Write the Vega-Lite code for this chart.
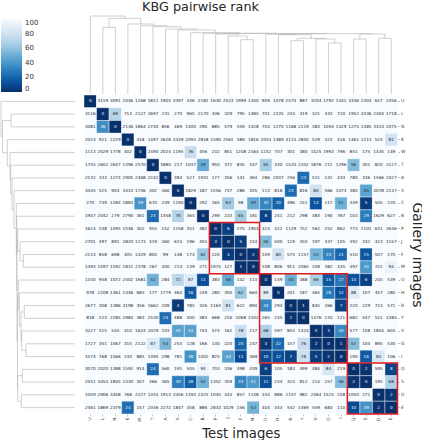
{"$schema":"https://vega.github.io/schema/vega-lite/v6.json","padding":0,"background":"white","config":{"view":{"stroke":null},"font":"DejaVu Sans"},
"datasets":{
"merges":[{"a":23.5,"b":24.5,"ta":0,"tb":0,"th":55.7,"la":0,"lb":0,"lh":53.7},{"a":21.5,"b":22.5,"ta":0,"tb":0,"th":55,"la":0,"lb":0,"lh":52.7},{"a":22,"b":24,"ta":55,"tb":55.7,"th":60,"la":52.7,"lb":53.7,"lh":57.3},{"a":19.5,"b":20.5,"ta":0,"tb":0,"th":51,"la":0,"lb":0,"lh":49},{"a":18.5,"b":20,"ta":0,"tb":51,"th":55,"la":0,"lb":49,"lh":53.3},{"a":16.5,"b":17.5,"ta":0,"tb":0,"th":53.3,"la":0,"lb":0,"lh":50.7},{"a":17,"b":19.25,"ta":53.3,"tb":55,"th":55.7,"la":50.7,"lb":53.3,"lh":54},{"a":15.5,"b":18.125,"ta":0,"tb":55.7,"th":59.3,"la":0,"lb":54,"lh":55.7},{"a":14.5,"b":16.81,"ta":0,"tb":59.3,"th":59.7,"la":0,"lb":55.7,"lh":56.7},{"a":15.66,"b":23,"ta":59.7,"tb":60,"th":60.3,"la":56.7,"lb":57.3,"lh":57.5},{"a":12.5,"b":13.5,"ta":0,"tb":0,"th":54.3,"la":0,"lb":0,"lh":51.7},{"a":11.5,"b":13,"ta":0,"tb":54.3,"th":58,"la":0,"lb":51.7,"lh":55},{"a":10.5,"b":12.25,"ta":0,"tb":58,"th":60,"la":0,"lb":55,"lh":57.3},{"a":11.375,"b":19.33,"ta":60,"tb":60.3,"th":60.5,"la":57.3,"lb":57.5,"lh":58},{"a":9.5,"b":15.35,"ta":0,"tb":60.5,"th":60.8,"la":0,"lb":58,"lh":58.3},{"a":8.5,"b":12.43,"ta":0,"tb":60.8,"th":61.3,"la":0,"lb":58.3,"lh":58.7},{"a":7.5,"b":10.46,"ta":0,"tb":61.3,"th":64,"la":0,"lb":58.7,"lh":61},{"a":6.5,"b":8.98,"ta":0,"tb":64,"th":65,"la":0,"lb":61,"lh":63},{"a":5.5,"b":7.74,"ta":0,"tb":65,"th":67.3,"la":0,"lb":63,"lh":64.3},{"a":4.5,"b":6.62,"ta":0,"tb":67.3,"th":68.3,"la":0,"lb":64.3,"lh":65},{"a":3.5,"b":5.56,"ta":0,"tb":68.3,"th":70,"la":0,"lb":65,"lh":67.7},{"a":1.5,"b":2.5,"ta":0,"tb":0,"th":66.7,"la":0,"lb":0,"lh":64},{"a":2,"b":4.53,"ta":66.7,"tb":70,"th":75.7,"la":64,"lb":67.7,"lh":72.5},{"a":0.5,"b":3.265,"ta":0,"tb":75.7,"th":78,"la":0,"lb":72.5,"lh":74}],
"boxes":[{"from":10,"to":14},{"from":14,"to":21},{"from":21,"to":25}],
"cells":[
{"g":"U","t":"U","r":0},{"g":"U","t":"L","r":3119},{"g":"U","t":"N","r":3091},{"g":"U","t":"K","r":2046},{"g":"U","t":"W","r":1268},{"g":"U","t":"T","r":1811},{"g":"U","t":"A","r":1905},{"g":"U","t":"X","r":3397},{"g":"U","t":"C","r":446},{"g":"U","t":"B","r":2181},{"g":"U","t":"P","r":1630},{"g":"U","t":"J","r":2523},{"g":"U","t":"F","r":1999},{"g":"U","t":"M","r":1340},{"g":"U","t":"O","r":909},{"g":"U","t":"H","r":1078},{"g":"U","t":"R","r":2574},{"g":"U","t":"Y","r":887},{"g":"U","t":"V","r":3204},{"g":"U","t":"G","r":1792},{"g":"U","t":"I","r":1441},{"g":"U","t":"Q","r":3336},{"g":"U","t":"S","r":2303},{"g":"U","t":"D","r":627},{"g":"U","t":"E","r":2356},
{"g":"L","t":"U","r":3116},{"g":"L","t":"L","r":0},{"g":"L","t":"N","r":69},{"g":"L","t":"K","r":713},{"g":"L","t":"W","r":2127},{"g":"L","t":"T","r":2697},{"g":"L","t":"A","r":231},{"g":"L","t":"X","r":270},{"g":"L","t":"C","r":965},{"g":"L","t":"B","r":2170},{"g":"L","t":"P","r":436},{"g":"L","t":"J","r":329},{"g":"L","t":"F","r":795},{"g":"L","t":"M","r":1485},{"g":"L","t":"O","r":701},{"g":"L","t":"H","r":2135},{"g":"L","t":"R","r":244},{"g":"L","t":"Y","r":319},{"g":"L","t":"V","r":421},{"g":"L","t":"G","r":443},{"g":"L","t":"I","r":720},{"g":"L","t":"Q","r":1952},{"g":"L","t":"S","r":3436},{"g":"L","t":"D","r":2404},{"g":"L","t":"E","r":1718},
{"g":"N","t":"U","r":3081},{"g":"N","t":"L","r":36},{"g":"N","t":"N","r":0},{"g":"N","t":"K","r":2136},{"g":"N","t":"W","r":1864},{"g":"N","t":"T","r":2740},{"g":"N","t":"A","r":856},{"g":"N","t":"X","r":469},{"g":"N","t":"C","r":1400},{"g":"N","t":"B","r":290},{"g":"N","t":"P","r":885},{"g":"N","t":"J","r":579},{"g":"N","t":"F","r":559},{"g":"N","t":"M","r":1428},{"g":"N","t":"O","r":703},{"g":"N","t":"H","r":1270},{"g":"N","t":"R","r":1168},{"g":"N","t":"Y","r":2119},{"g":"N","t":"V","r":383},{"g":"N","t":"G","r":1050},{"g":"N","t":"I","r":1329},{"g":"N","t":"Q","r":1275},{"g":"N","t":"S","r":1485},{"g":"N","t":"D","r":3414},{"g":"N","t":"E","r":2075},
{"g":"K","t":"U","r":2023},{"g":"K","t":"L","r":921},{"g":"K","t":"N","r":2229},{"g":"K","t":"K","r":0},{"g":"K","t":"W","r":418},{"g":"K","t":"T","r":1497},{"g":"K","t":"A","r":2628},{"g":"K","t":"X","r":3339},{"g":"K","t":"C","r":2093},{"g":"K","t":"B","r":2818},{"g":"K","t":"P","r":1590},{"g":"K","t":"J","r":2561},{"g":"K","t":"F","r":589},{"g":"K","t":"M","r":1816},{"g":"K","t":"O","r":2033},{"g":"K","t":"H","r":1489},{"g":"K","t":"R","r":3113},{"g":"K","t":"Y","r":2850},{"g":"K","t":"V","r":529},{"g":"K","t":"G","r":423},{"g":"K","t":"I","r":416},{"g":"K","t":"Q","r":1461},{"g":"K","t":"S","r":1213},{"g":"K","t":"D","r":525},{"g":"K","t":"E","r":81},
{"g":"W","t":"U","r":1113},{"g":"W","t":"L","r":2029},{"g":"W","t":"N","r":1778},{"g":"W","t":"K","r":402},{"g":"W","t":"W","r":0},{"g":"W","t":"T","r":2490},{"g":"W","t":"A","r":2024},{"g":"W","t":"X","r":1195},{"g":"W","t":"C","r":76},{"g":"W","t":"B","r":456},{"g":"W","t":"P","r":232},{"g":"W","t":"J","r":851},{"g":"W","t":"F","r":1208},{"g":"W","t":"M","r":2164},{"g":"W","t":"O","r":1232},{"g":"W","t":"H","r":707},{"g":"W","t":"R","r":301},{"g":"W","t":"Y","r":380},{"g":"W","t":"V","r":1425},{"g":"W","t":"G","r":1993},{"g":"W","t":"I","r":796},{"g":"W","t":"Q","r":851},{"g":"W","t":"S","r":175},{"g":"W","t":"D","r":1435},{"g":"W","t":"E","r":149},
{"g":"T","t":"U","r":1755},{"g":"T","t":"L","r":2602},{"g":"T","t":"N","r":2647},{"g":"T","t":"K","r":1396},{"g":"T","t":"W","r":2570},{"g":"T","t":"T","r":0},{"g":"T","t":"A","r":1880},{"g":"T","t":"X","r":217},{"g":"T","t":"C","r":1037},{"g":"T","t":"B","r":49},{"g":"T","t":"P","r":950},{"g":"T","t":"J","r":372},{"g":"T","t":"F","r":835},{"g":"T","t":"M","r":347},{"g":"T","t":"O","r":65},{"g":"T","t":"H","r":330},{"g":"T","t":"R","r":1520},{"g":"T","t":"Y","r":2342},{"g":"T","t":"V","r":1876},{"g":"T","t":"G","r":211},{"g":"T","t":"I","r":1296},{"g":"T","t":"Q","r":56},{"g":"T","t":"S","r":301},{"g":"T","t":"D","r":820},{"g":"T","t":"E","r":2127},
{"g":"A","t":"U","r":2132},{"g":"A","t":"L","r":333},{"g":"A","t":"N","r":1274},{"g":"A","t":"K","r":2905},{"g":"A","t":"W","r":2468},{"g":"A","t":"T","r":2242},{"g":"A","t":"A","r":0},{"g":"A","t":"X","r":384},{"g":"A","t":"C","r":527},{"g":"A","t":"B","r":1941},{"g":"A","t":"P","r":177},{"g":"A","t":"J","r":356},{"g":"A","t":"F","r":141},{"g":"A","t":"M","r":364},{"g":"A","t":"O","r":286},{"g":"A","t":"H","r":2037},{"g":"A","t":"R","r":256},{"g":"A","t":"Y","r":23},{"g":"A","t":"V","r":511},{"g":"A","t":"G","r":131},{"g":"A","t":"I","r":434},{"g":"A","t":"Q","r":780},{"g":"A","t":"S","r":336},{"g":"A","t":"D","r":1566},{"g":"A","t":"E","r":2427},
{"g":"X","t":"U","r":3445},{"g":"X","t":"L","r":525},{"g":"X","t":"N","r":904},{"g":"X","t":"K","r":3414},{"g":"X","t":"W","r":1756},{"g":"X","t":"T","r":302},{"g":"X","t":"A","r":460},{"g":"X","t":"X","r":0},{"g":"X","t":"C","r":1829},{"g":"X","t":"B","r":187},{"g":"X","t":"P","r":1556},{"g":"X","t":"J","r":737},{"g":"X","t":"F","r":286},{"g":"X","t":"M","r":355},{"g":"X","t":"O","r":113},{"g":"X","t":"H","r":818},{"g":"X","t":"R","r":23},{"g":"X","t":"Y","r":816},{"g":"X","t":"V","r":80},{"g":"X","t":"G","r":566},{"g":"X","t":"I","r":1073},{"g":"X","t":"Q","r":380},{"g":"X","t":"S","r":45},{"g":"X","t":"D","r":3078},{"g":"X","t":"E","r":2147},
{"g":"C","t":"U","r":270},{"g":"C","t":"L","r":739},{"g":"C","t":"N","r":1284},{"g":"C","t":"K","r":1883},{"g":"C","t":"W","r":39},{"g":"C","t":"T","r":670},{"g":"C","t":"A","r":249},{"g":"C","t":"X","r":1190},{"g":"C","t":"C","r":0},{"g":"C","t":"B","r":292},{"g":"C","t":"P","r":165},{"g":"C","t":"J","r":63},{"g":"C","t":"F","r":98},{"g":"C","t":"M","r":49},{"g":"C","t":"O","r":33},{"g":"C","t":"H","r":20},{"g":"C","t":"R","r":496},{"g":"C","t":"Y","r":251},{"g":"C","t":"V","r":13},{"g":"C","t":"G","r":117},{"g":"C","t":"I","r":51},{"g":"C","t":"Q","r":349},{"g":"C","t":"S","r":5},{"g":"C","t":"D","r":505},{"g":"C","t":"E","r":220},
{"g":"B","t":"U","r":1947},{"g":"B","t":"L","r":2042},{"g":"B","t":"N","r":279},{"g":"B","t":"K","r":2790},{"g":"B","t":"W","r":361},{"g":"B","t":"T","r":23},{"g":"B","t":"A","r":1458},{"g":"B","t":"X","r":70},{"g":"B","t":"C","r":364},{"g":"B","t":"B","r":0},{"g":"B","t":"P","r":299},{"g":"B","t":"J","r":233},{"g":"B","t":"F","r":65},{"g":"B","t":"M","r":161},{"g":"B","t":"O","r":8},{"g":"B","t":"H","r":241},{"g":"B","t":"R","r":212},{"g":"B","t":"Y","r":298},{"g":"B","t":"V","r":483},{"g":"B","t":"G","r":190},{"g":"B","t":"I","r":767},{"g":"B","t":"Q","r":103},{"g":"B","t":"S","r":29},{"g":"B","t":"D","r":1629},{"g":"B","t":"E","r":627},
{"g":"P","t":"U","r":1624},{"g":"P","t":"L","r":538},{"g":"P","t":"N","r":1095},{"g":"P","t":"K","r":1546},{"g":"P","t":"W","r":302},{"g":"P","t":"T","r":955},{"g":"P","t":"A","r":152},{"g":"P","t":"X","r":1158},{"g":"P","t":"C","r":351},{"g":"P","t":"B","r":481},{"g":"P","t":"P","r":0},{"g":"P","t":"J","r":6},{"g":"P","t":"F","r":275},{"g":"P","t":"M","r":1904},{"g":"P","t":"O","r":324},{"g":"P","t":"H","r":422},{"g":"P","t":"R","r":1129},{"g":"P","t":"Y","r":752},{"g":"P","t":"V","r":562},{"g":"P","t":"G","r":252},{"g":"P","t":"I","r":862},{"g":"P","t":"Q","r":773},{"g":"P","t":"S","r":1101},{"g":"P","t":"D","r":631},{"g":"P","t":"E","r":2646},
{"g":"J","t":"U","r":2701},{"g":"J","t":"L","r":497},{"g":"J","t":"N","r":891},{"g":"J","t":"K","r":2820},{"g":"J","t":"W","r":1173},{"g":"J","t":"T","r":419},{"g":"J","t":"A","r":360},{"g":"J","t":"X","r":615},{"g":"J","t":"C","r":196},{"g":"J","t":"B","r":455},{"g":"J","t":"P","r":3},{"g":"J","t":"J","r":0},{"g":"J","t":"F","r":5},{"g":"J","t":"M","r":153},{"g":"J","t":"O","r":56},{"g":"J","t":"H","r":500},{"g":"J","t":"R","r":119},{"g":"J","t":"Y","r":350},{"g":"J","t":"V","r":197},{"g":"J","t":"G","r":437},{"g":"J","t":"I","r":105},{"g":"J","t":"Q","r":492},{"g":"J","t":"S","r":332},{"g":"J","t":"D","r":323},{"g":"J","t":"E","r":1157},
{"g":"F","t":"U","r":2114},{"g":"F","t":"L","r":858},{"g":"F","t":"N","r":698},{"g":"F","t":"K","r":405},{"g":"F","t":"W","r":1429},{"g":"F","t":"T","r":804},{"g":"F","t":"A","r":99},{"g":"F","t":"X","r":148},{"g":"F","t":"C","r":174},{"g":"F","t":"B","r":62},{"g":"F","t":"P","r":220},{"g":"F","t":"J","r":4},{"g":"F","t":"F","r":0},{"g":"F","t":"M","r":2},{"g":"F","t":"O","r":109},{"g":"F","t":"H","r":80},{"g":"F","t":"R","r":574},{"g":"F","t":"Y","r":1157},{"g":"F","t":"V","r":53},{"g":"F","t":"G","r":33},{"g":"F","t":"I","r":21},{"g":"F","t":"Q","r":510},{"g":"F","t":"S","r":15},{"g":"F","t":"D","r":507},{"g":"F","t":"E","r":170},
{"g":"M","t":"U","r":1393},{"g":"M","t":"L","r":1597},{"g":"M","t":"N","r":1592},{"g":"M","t":"K","r":1811},{"g":"M","t":"W","r":2378},{"g":"M","t":"T","r":267},{"g":"M","t":"A","r":300},{"g":"M","t":"X","r":214},{"g":"M","t":"C","r":139},{"g":"M","t":"B","r":271},{"g":"M","t":"P","r":1975},{"g":"M","t":"J","r":127},{"g":"M","t":"F","r":1},{"g":"M","t":"M","r":0},{"g":"M","t":"O","r":108},{"g":"M","t":"H","r":806},{"g":"M","t":"R","r":911},{"g":"M","t":"Y","r":2065},{"g":"M","t":"V","r":209},{"g":"M","t":"G","r":382},{"g":"M","t":"I","r":435},{"g":"M","t":"Q","r":497},{"g":"M","t":"S","r":40},{"g":"M","t":"D","r":722},{"g":"M","t":"E","r":94},
{"g":"O","t":"U","r":1150},{"g":"O","t":"L","r":958},{"g":"O","t":"N","r":1072},{"g":"O","t":"K","r":2402},{"g":"O","t":"W","r":1681},{"g":"O","t":"T","r":52},{"g":"O","t":"A","r":284},{"g":"O","t":"X","r":72},{"g":"O","t":"C","r":87},{"g":"O","t":"B","r":11},{"g":"O","t":"P","r":383},{"g":"O","t":"J","r":48},{"g":"O","t":"F","r":142},{"g":"O","t":"M","r":113},{"g":"O","t":"O","r":0},{"g":"O","t":"H","r":149},{"g":"O","t":"R","r":50},{"g":"O","t":"Y","r":388},{"g":"O","t":"V","r":66},{"g":"O","t":"G","r":15},{"g":"O","t":"I","r":27},{"g":"O","t":"Q","r":13},{"g":"O","t":"S","r":6},{"g":"O","t":"D","r":245},{"g":"O","t":"E","r":539},
{"g":"H","t":"U","r":978},{"g":"H","t":"L","r":2208},{"g":"H","t":"N","r":1361},{"g":"H","t":"K","r":1346},{"g":"H","t":"W","r":683},{"g":"H","t":"T","r":177},{"g":"H","t":"A","r":1779},{"g":"H","t":"X","r":464},{"g":"H","t":"C","r":16},{"g":"H","t":"B","r":249},{"g":"H","t":"P","r":280},{"g":"H","t":"J","r":300},{"g":"H","t":"F","r":62},{"g":"H","t":"M","r":664},{"g":"H","t":"O","r":89},{"g":"H","t":"H","r":0},{"g":"H","t":"R","r":201},{"g":"H","t":"Y","r":187},{"g":"H","t":"V","r":465},{"g":"H","t":"G","r":28},{"g":"H","t":"I","r":12},{"g":"H","t":"Q","r":88},{"g":"H","t":"S","r":107},{"g":"H","t":"D","r":457},{"g":"H","t":"E","r":280},
{"g":"R","t":"U","r":2677},{"g":"R","t":"L","r":308},{"g":"R","t":"N","r":1386},{"g":"R","t":"K","r":3198},{"g":"R","t":"W","r":356},{"g":"R","t":"T","r":1662},{"g":"R","t":"A","r":209},{"g":"R","t":"X","r":4},{"g":"R","t":"C","r":785},{"g":"R","t":"B","r":326},{"g":"R","t":"P","r":1163},{"g":"R","t":"J","r":81},{"g":"R","t":"F","r":622},{"g":"R","t":"M","r":894},{"g":"R","t":"O","r":34},{"g":"R","t":"H","r":294},{"g":"R","t":"R","r":0},{"g":"R","t":"Y","r":1},{"g":"R","t":"V","r":845},{"g":"R","t":"G","r":266},{"g":"R","t":"I","r":7},{"g":"R","t":"Q","r":220},{"g":"R","t":"S","r":229},{"g":"R","t":"D","r":723},{"g":"R","t":"E","r":571},
{"g":"Y","t":"U","r":818},{"g":"Y","t":"L","r":223},{"g":"Y","t":"N","r":2285},{"g":"Y","t":"K","r":2984},{"g":"Y","t":"W","r":383},{"g":"Y","t":"T","r":2530},{"g":"Y","t":"A","r":24},{"g":"Y","t":"X","r":488},{"g":"Y","t":"C","r":400},{"g":"Y","t":"B","r":383},{"g":"Y","t":"P","r":668},{"g":"Y","t":"J","r":216},{"g":"Y","t":"F","r":1068},{"g":"Y","t":"M","r":2102},{"g":"Y","t":"O","r":265},{"g":"Y","t":"H","r":245},{"g":"Y","t":"R","r":2},{"g":"Y","t":"Y","r":0},{"g":"Y","t":"V","r":1376},{"g":"Y","t":"G","r":133},{"g":"Y","t":"I","r":121},{"g":"Y","t":"Q","r":682},{"g":"Y","t":"S","r":547},{"g":"Y","t":"D","r":521},{"g":"Y","t":"E","r":1384},
{"g":"V","t":"U","r":3227},{"g":"V","t":"L","r":515},{"g":"V","t":"N","r":545},{"g":"V","t":"K","r":410},{"g":"V","t":"W","r":1624},{"g":"V","t":"T","r":2029},{"g":"V","t":"A","r":103},{"g":"V","t":"X","r":44},{"g":"V","t":"C","r":43},{"g":"V","t":"B","r":744},{"g":"V","t":"P","r":574},{"g":"V","t":"J","r":162},{"g":"V","t":"F","r":78},{"g":"V","t":"M","r":217},{"g":"V","t":"O","r":68},{"g":"V","t":"H","r":597},{"g":"V","t":"R","r":854},{"g":"V","t":"Y","r":1424},{"g":"V","t":"V","r":0},{"g":"V","t":"G","r":3},{"g":"V","t":"I","r":34},{"g":"V","t":"Q","r":577},{"g":"V","t":"S","r":158},{"g":"V","t":"D","r":1854},{"g":"V","t":"E","r":604},
{"g":"G","t":"U","r":1727},{"g":"G","t":"L","r":351},{"g":"G","t":"N","r":1067},{"g":"G","t":"K","r":315},{"g":"G","t":"W","r":2122},{"g":"G","t":"T","r":87},{"g":"G","t":"A","r":54},{"g":"G","t":"X","r":254},{"g":"G","t":"C","r":128},{"g":"G","t":"B","r":166},{"g":"G","t":"P","r":130},{"g":"G","t":"J","r":220},{"g":"G","t":"F","r":20},{"g":"G","t":"M","r":247},{"g":"G","t":"O","r":3},{"g":"G","t":"H","r":22},{"g":"G","t":"R","r":157},{"g":"G","t":"Y","r":76},{"g":"G","t":"V","r":2},{"g":"G","t":"G","r":0},{"g":"G","t":"I","r":1},{"g":"G","t":"Q","r":57},{"g":"G","t":"S","r":104},{"g":"G","t":"D","r":895},{"g":"G","t":"E","r":530},
{"g":"I","t":"U","r":1574},{"g":"I","t":"L","r":768},{"g":"I","t":"N","r":1566},{"g":"I","t":"K","r":230},{"g":"I","t":"W","r":885},{"g":"I","t":"T","r":1395},{"g":"I","t":"A","r":298},{"g":"I","t":"X","r":781},{"g":"I","t":"C","r":38},{"g":"I","t":"B","r":1002},{"g":"I","t":"P","r":825},{"g":"I","t":"J","r":44},{"g":"I","t":"F","r":11},{"g":"I","t":"M","r":369},{"g":"I","t":"O","r":10},{"g":"I","t":"H","r":12},{"g":"I","t":"R","r":7},{"g":"I","t":"Y","r":78},{"g":"I","t":"V","r":5},{"g":"I","t":"G","r":2},{"g":"I","t":"I","r":0},{"g":"I","t":"Q","r":190},{"g":"I","t":"S","r":16},{"g":"I","t":"D","r":85},{"g":"I","t":"E","r":106},
{"g":"Q","t":"U","r":3070},{"g":"Q","t":"L","r":2020},{"g":"Q","t":"N","r":1388},{"g":"Q","t":"K","r":1592},{"g":"Q","t":"W","r":914},{"g":"Q","t":"T","r":24},{"g":"Q","t":"A","r":560},{"g":"Q","t":"X","r":191},{"g":"Q","t":"C","r":505},{"g":"Q","t":"B","r":94},{"g":"Q","t":"P","r":703},{"g":"Q","t":"J","r":336},{"g":"Q","t":"F","r":498},{"g":"Q","t":"M","r":439},{"g":"Q","t":"O","r":6},{"g":"Q","t":"H","r":105},{"g":"Q","t":"R","r":183},{"g":"Q","t":"Y","r":499},{"g":"Q","t":"V","r":484},{"g":"Q","t":"G","r":84},{"g":"Q","t":"I","r":219},{"g":"Q","t":"Q","r":0},{"g":"Q","t":"S","r":2},{"g":"Q","t":"D","r":595},{"g":"Q","t":"E","r":8},
{"g":"S","t":"U","r":2551},{"g":"S","t":"L","r":3454},{"g":"S","t":"N","r":1845},{"g":"S","t":"K","r":1430},{"g":"S","t":"W","r":307},{"g":"S","t":"T","r":366},{"g":"S","t":"A","r":365},{"g":"S","t":"X","r":30},{"g":"S","t":"C","r":18},{"g":"S","t":"B","r":52},{"g":"S","t":"P","r":1352},{"g":"S","t":"J","r":359},{"g":"S","t":"F","r":33},{"g":"S","t":"M","r":41},{"g":"S","t":"O","r":11},{"g":"S","t":"H","r":234},{"g":"S","t":"R","r":324},{"g":"S","t":"Y","r":812},{"g":"S","t":"V","r":214},{"g":"S","t":"G","r":257},{"g":"S","t":"I","r":56},{"g":"S","t":"Q","r":2},{"g":"S","t":"S","r":0},{"g":"S","t":"D","r":195},{"g":"S","t":"E","r":68},
{"g":"D","t":"U","r":1059},{"g":"D","t":"L","r":2906},{"g":"D","t":"N","r":3458},{"g":"D","t":"K","r":768},{"g":"D","t":"W","r":2227},{"g":"D","t":"T","r":1345},{"g":"D","t":"A","r":1913},{"g":"D","t":"X","r":3356},{"g":"D","t":"C","r":1193},{"g":"D","t":"B","r":2425},{"g":"D","t":"P","r":1045},{"g":"D","t":"J","r":444},{"g":"D","t":"F","r":857},{"g":"D","t":"M","r":1148},{"g":"D","t":"O","r":344},{"g":"D","t":"H","r":886},{"g":"D","t":"R","r":1157},{"g":"D","t":"Y","r":982},{"g":"D","t":"V","r":2364},{"g":"D","t":"G","r":1525},{"g":"D","t":"I","r":258},{"g":"D","t":"Q","r":1050},{"g":"D","t":"S","r":271},{"g":"D","t":"D","r":0},{"g":"D","t":"E","r":2},
{"g":"E","t":"U","r":2461},{"g":"E","t":"L","r":1869},{"g":"E","t":"N","r":2379},{"g":"E","t":"K","r":24},{"g":"E","t":"W","r":157},{"g":"E","t":"T","r":2346},{"g":"E","t":"A","r":2272},{"g":"E","t":"X","r":1847},{"g":"E","t":"C","r":358},{"g":"E","t":"B","r":886},{"g":"E","t":"P","r":2833},{"g":"E","t":"J","r":1029},{"g":"E","t":"F","r":156},{"g":"E","t":"M","r":52},{"g":"E","t":"O","r":404},{"g":"E","t":"H","r":343},{"g":"E","t":"R","r":542},{"g":"E","t":"Y","r":1469},{"g":"E","t":"V","r":559},{"g":"E","t":"G","r":683},{"g":"E","t":"I","r":110},{"g":"E","t":"Q","r":10},{"g":"E","t":"S","r":39},{"g":"E","t":"D","r":2},{"g":"E","t":"E","r":0}
]},
"columns":2,"spacing":{"row":1,"column":9},"bounds":"flush",
"concat":[
{"width":75,"height":78,"data":{"values":[{}]},"mark":{"type":"rect","opacity":0},"encoding":{}},
{"width":313.5,"height":78,"title":{"text":"KBG pairwise rank","anchor":"start","dx":58,"fontSize":12.8,"fontWeight":"normal","color":"#262626","offset":2},"data":{"name":"merges"},
"encoding":{"x":{"field":"a","type":"quantitative","axis":null,"scale":{"domain":[0,25],"nice":false}},"y":{"field":"th","type":"quantitative","axis":null,"scale":{"domain":[0,78],"nice":false}}},
"layer":[
{"mark":{"type":"rule","stroke":"#b0b0b0","strokeOpacity":0.6,"strokeWidth":1},"encoding":{"x2":{"field":"b"}}},
{"mark":{"type":"rule","stroke":"#b0b0b0","strokeOpacity":0.6,"strokeWidth":1},"encoding":{"y":{"field":"ta","type":"quantitative"},"y2":{"field":"th"}}},
{"mark":{"type":"rule","stroke":"#b0b0b0","strokeOpacity":0.6,"strokeWidth":1},"encoding":{"x":{"field":"b","type":"quantitative"},"y":{"field":"tb","type":"quantitative"},"y2":{"field":"th"}}}
]},
{"width":75,"height":319,"data":{"name":"merges"},
"encoding":{"y":{"field":"a","type":"quantitative","axis":null,"scale":{"domain":[0,25],"nice":false,"reverse":true}},"x":{"field":"lh","type":"quantitative","axis":null,"scale":{"domain":[0,75],"nice":false,"reverse":true}}},
"layer":[
{"mark":{"type":"rule","stroke":"#b0b0b0","strokeOpacity":0.6,"strokeWidth":1},"encoding":{"y2":{"field":"b"}}},
{"mark":{"type":"rule","stroke":"#b0b0b0","strokeOpacity":0.6,"strokeWidth":1},"encoding":{"x":{"field":"la","type":"quantitative"},"x2":{"field":"lh"}}},
{"mark":{"type":"rule","stroke":"#b0b0b0","strokeOpacity":0.6,"strokeWidth":1},"encoding":{"y":{"field":"b","type":"quantitative"},"x":{"field":"lb","type":"quantitative"},"x2":{"field":"lh"}}}
]},
{"width":313.5,"height":319,"resolve":{"scale":{"x":"independent","y":"independent"}},
"layer":[
{"data":{"name":"cells"},
"encoding":{
"x":{"field":"t","type":"nominal","sort":null,"scale":{"domain":["U","L","N","K","W","T","A","X","C","B","P","J","F","M","O","H","R","Y","V","G","I","Q","S","D","E"],"paddingInner":0,"paddingOuter":0},"axis":{"title":"Test images","titleFontSize":13.2,"titleFontWeight":"normal","titleColor":"#262626","titlePadding":6,"labelFontSize":4.5,"labelAngle":-90,"labelColor":"#444","tickSize":2,"tickColor":"#888","tickWidth":0.5,"domain":false,"grid":false,"labelPadding":1}},
"y":{"field":"g","type":"nominal","sort":null,"scale":{"domain":["U","L","N","K","W","T","A","X","C","B","P","J","F","M","O","H","R","Y","V","G","I","Q","S","D","E"],"paddingInner":0,"paddingOuter":0},"axis":{"orient":"right","title":"Gallery images","titleFontSize":14,"titleFontWeight":"normal","titleColor":"#262626","titlePadding":5,"labelFontSize":4.5,"labelColor":"#444","tickSize":2,"tickColor":"#888","tickWidth":0.5,"domain":false,"grid":false,"labelPadding":1}}},
"layer":[
{"mark":{"type":"rect","stroke":"white","strokeWidth":0.4},"encoding":{"color":{"field":"r","type":"quantitative","scale":{"domain":[0,12.5,25,37.5,50,62.5,75,87.5,100],"range":["#08306b","#08519c","#2171b5","#4292c6","#6baed6","#9ecae1","#c6dbef","#deebf7","#f7fbff"],"clamp":true},"legend":{"orient":"none","legendX":1,"legendY":3,"title":null,"gradientLength":73,"gradientThickness":21,"labelFontSize":7,"labelColor":"#333","values":[0,20,40,60,80,100],"tickCount":6,"labelOffset":3,"gradientStrokeWidth":0}}}},
{"mark":{"type":"text","fontSize":4.2},"encoding":{"text":{"field":"r","type":"quantitative"},"color":{"condition":{"test":"datum.r<45","value":"#f0f4f8"},"value":"#262626"}}}
]},
{"data":{"name":"boxes"},"mark":{"type":"rect","fill":null,"stroke":"#e0191c","strokeWidth":1.5},
"encoding":{"x":{"field":"from","type":"quantitative","axis":null,"scale":{"domain":[0,25],"nice":false}},"x2":{"field":"to"},"y":{"field":"from","type":"quantitative","axis":null,"scale":{"domain":[0,25],"nice":false,"reverse":true}},"y2":{"field":"to"}}}
]}
]}
